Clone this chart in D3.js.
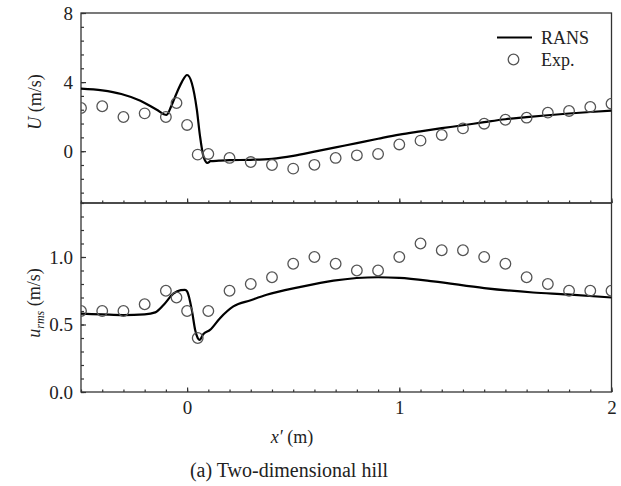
<!doctype html>
<html>
<head>
<meta charset="utf-8">
<script src="https://d3js.org/d3.v7.min.js"></script>
<style>
  body { margin: 0; background: #fff; }
</style>
</head>
<body>
<div id="chart"></div>
<script>
// RANS curve, top panel (U)
var ransUx = [-0.5, -0.4, -0.31, -0.22, -0.143, -0.097, -0.075, -0.049, -0.025, 0.0, 0.022, 0.046, 0.061, 0.077, 0.096, 0.11, 0.15, 0.2, 0.3, 0.4, 0.5, 0.6, 0.7, 0.8, 0.9, 1.0, 1.1, 1.2, 1.3, 1.4, 1.5, 1.6, 1.7, 1.8, 1.9, 2.0];
var ransU  = [3.62, 3.52, 3.31, 2.92, 2.4, 2.1, 2.6, 3.37, 4.0, 4.41, 3.95, 2.4, 0.86, -0.3, -0.68, -0.58, -0.55, -0.52, -0.5, -0.44, -0.27, -0.03, 0.22, 0.47, 0.72, 0.96, 1.15, 1.33, 1.5, 1.68, 1.85, 1.97, 2.08, 2.18, 2.27, 2.35];

// RANS curve, bottom panel (u_rms)
var ransRx = [-0.5, -0.4, -0.3, -0.2, -0.15, -0.11, -0.065, -0.03, -0.01, 0.0, 0.022, 0.038, 0.05, 0.058, 0.077, 0.108, 0.155, 0.218, 0.3, 0.375, 0.53, 0.69, 0.9, 1.0, 1.16, 1.4, 1.63, 1.79, 2.0];
var ransR  = [0.58, 0.575, 0.57, 0.575, 0.59, 0.646, 0.728, 0.755, 0.757, 0.745, 0.61, 0.46, 0.40, 0.386, 0.43, 0.46, 0.547, 0.634, 0.68, 0.72, 0.777, 0.825, 0.85, 0.845, 0.82, 0.77, 0.737, 0.723, 0.70];

// experiment points
var expX = [-0.5, -0.4, -0.3, -0.2, -0.1, -0.05, 0, 0.05, 0.1, 0.2, 0.3, 0.4, 0.5, 0.6, 0.7, 0.8, 0.9, 1.0, 1.1, 1.2, 1.3, 1.4, 1.5, 1.6, 1.7, 1.8, 1.9, 2.0];
var expU = [2.5, 2.6, 1.98, 2.19, 1.98, 2.79, 1.52, -0.2, -0.16, -0.39, -0.63, -0.8, -1.01, -0.79, -0.39, -0.24, -0.16, 0.39, 0.61, 0.94, 1.32, 1.59, 1.82, 1.94, 2.23, 2.33, 2.56, 2.75];
var expR = [0.6, 0.6, 0.6, 0.65, 0.75, 0.70, 0.6, 0.4, 0.6, 0.75, 0.8, 0.85, 0.95, 1.0, 0.95, 0.9, 0.9, 1.0, 1.1, 1.05, 1.05, 1.0, 0.95, 0.85, 0.8, 0.75, 0.75, 0.75];

// ticks
var xMajor = [0, 1, 2];
var uMajor = [0, 4, 8];
var rMajor = [0, 0.5, 1.0];

var FONT = "'Liberation Serif', 'Times New Roman', serif";
var W = 621, H = 486;
var left = 81, right = 611.5, top1 = 13, mid = 203, bot = 392;

var svg = d3.select("#chart").append("svg")
    .attr("width", W)
    .attr("height", H)
    .attr("font-family", FONT);

var x = d3.scaleLinear().domain([-0.5, 2]).range([left, right]);
var yU = d3.scaleLinear().domain([-3, 8]).range([mid, top1]);
var yR = d3.scaleLinear().domain([0, 1.4]).range([bot, mid]);

var xMinor = d3.range(-0.5, 2.001, 0.1).map(function (d) { return +d.toFixed(2); });
var uMinor = d3.range(-2.4, 8.001, 0.8).map(function (d) { return +d.toFixed(2); });
var rMinor = d3.range(0, 1.401, 0.1).map(function (d) { return +d.toFixed(2); });

svg.append("clipPath").attr("id", "clipTop")
    .append("rect").attr("x", left).attr("y", top1).attr("width", right - left).attr("height", mid - top1);
svg.append("clipPath").attr("id", "clipBot")
    .append("rect").attr("x", left).attr("y", mid).attr("width", right - left).attr("height", bot - mid);

function styleAxis(g) {
    g.attr("font-family", FONT).attr("font-size", 19);
    g.select(".domain").remove();
    g.selectAll("line").attr("stroke", "#333").attr("stroke-width", 1.2);
    g.selectAll("text").attr("fill", "#222");
}

// x axes (ticks pointing inward/up)
[mid, bot].forEach(function (yy, i) {
    svg.append("g").attr("transform", "translate(0," + yy + ")")
        .call(d3.axisBottom(x).tickValues(xMinor).tickSize(-2.5).tickFormat(""))
        .call(styleAxis);
    svg.append("g").attr("transform", "translate(0," + yy + ")")
        .call(d3.axisBottom(x).tickValues(xMajor).tickSize(-4.5).tickPadding(9)
            .tickFormat(i == 1 ? d3.format("d") : ""))
        .call(styleAxis);
});

// y axes
svg.append("g").attr("transform", "translate(" + left + ",0)")
    .call(d3.axisLeft(yU).tickValues(uMinor).tickSize(-3).tickFormat(""))
    .call(styleAxis);
svg.append("g").attr("transform", "translate(" + left + ",0)")
    .call(d3.axisLeft(yU).tickValues(uMajor).tickSize(-5).tickPadding(8).tickFormat(d3.format("d")))
    .call(styleAxis);
svg.append("g").attr("transform", "translate(" + left + ",0)")
    .call(d3.axisLeft(yR).tickValues(rMinor).tickSize(-3).tickFormat(""))
    .call(styleAxis);
svg.append("g").attr("transform", "translate(" + left + ",0)")
    .call(d3.axisLeft(yR).tickValues(rMajor).tickSize(-5).tickPadding(8).tickFormat(d3.format(".1f")))
    .call(styleAxis);

// frames
svg.append("rect").attr("x", left).attr("y", top1).attr("width", right - left).attr("height", mid - top1)
    .attr("fill", "none").attr("stroke", "#333").attr("stroke-width", 1.3);
svg.append("rect").attr("x", left).attr("y", mid).attr("width", right - left).attr("height", bot - mid)
    .attr("fill", "none").attr("stroke", "#333").attr("stroke-width", 1.3);

// data
var topG = svg.append("g").attr("clip-path", "url(#clipTop)");
var botG = svg.append("g").attr("clip-path", "url(#clipBot)");

var lineU = d3.line().x(function (d, i) { return x(ransUx[i]); }).y(function (d) { return yU(d); }).curve(d3.curveMonotoneX);
var lineR = d3.line().x(function (d, i) { return x(ransRx[i]); }).y(function (d) { return yR(d); }).curve(d3.curveMonotoneX);

topG.append("path").datum(ransU).attr("d", lineU)
    .attr("fill", "none").attr("stroke", "#000").attr("stroke-width", 2.2);
botG.append("path").datum(ransR).attr("d", lineR)
    .attr("fill", "none").attr("stroke", "#000").attr("stroke-width", 2.2);

topG.selectAll(".expU").data(expU).enter().append("circle")
    .attr("class", "expU")
    .attr("cx", function (d, i) { return x(expX[i]); })
    .attr("cy", function (d) { return yU(d); })
    .attr("r", 5.3)
    .attr("fill", "none").attr("stroke", "#555").attr("stroke-width", 1.3);
botG.selectAll(".expR").data(expR).enter().append("circle")
    .attr("class", "expR")
    .attr("cx", function (d, i) { return x(expX[i]); })
    .attr("cy", function (d) { return yR(d); })
    .attr("r", 5.3)
    .attr("fill", "none").attr("stroke", "#555").attr("stroke-width", 1.3);

// legend
svg.append("line").attr("x1", 497).attr("x2", 532).attr("y1", 37.5).attr("y2", 37.5)
    .attr("stroke", "#000").attr("stroke-width", 2.2);
svg.append("text").attr("x", 541).attr("y", 43.5).attr("font-size", 18).attr("fill", "#222").text("RANS");
svg.append("circle").attr("cx", 513.5).attr("cy", 59.5).attr("r", 5.3)
    .attr("fill", "none").attr("stroke", "#555").attr("stroke-width", 1.3);
svg.append("text").attr("x", 541).attr("y", 65.5).attr("font-size", 18).attr("fill", "#222").text("Exp.");

// axis titles
var t1 = svg.append("text").attr("transform", "translate(41,102) rotate(-90)")
    .attr("text-anchor", "middle").attr("font-size", 18).attr("fill", "#222");
t1.append("tspan").attr("font-style", "italic").text("U");
t1.append("tspan").text(" (m/s)");

var t2 = svg.append("text").attr("transform", "translate(40,303) rotate(-90)")
    .attr("text-anchor", "middle").attr("font-size", 18).attr("fill", "#222");
t2.append("tspan").attr("font-style", "italic").text("u");
t2.append("tspan").attr("font-style", "italic").attr("font-size", 12).attr("dy", 4).text("rms");
t2.append("tspan").attr("dy", -4).text(" (m/s)");

var t3 = svg.append("text").attr("x", 292).attr("y", 443)
    .attr("text-anchor", "middle").attr("font-size", 18).attr("fill", "#222");
t3.append("tspan").attr("font-style", "italic").text("x\u2032");
t3.append("tspan").text(" (m)");

svg.append("text").attr("x", 289).attr("y", 477)
    .attr("text-anchor", "middle").attr("font-size", 20).attr("fill", "#222")
    .text("(a) Two-dimensional hill");
</script>
</body>
</html>
